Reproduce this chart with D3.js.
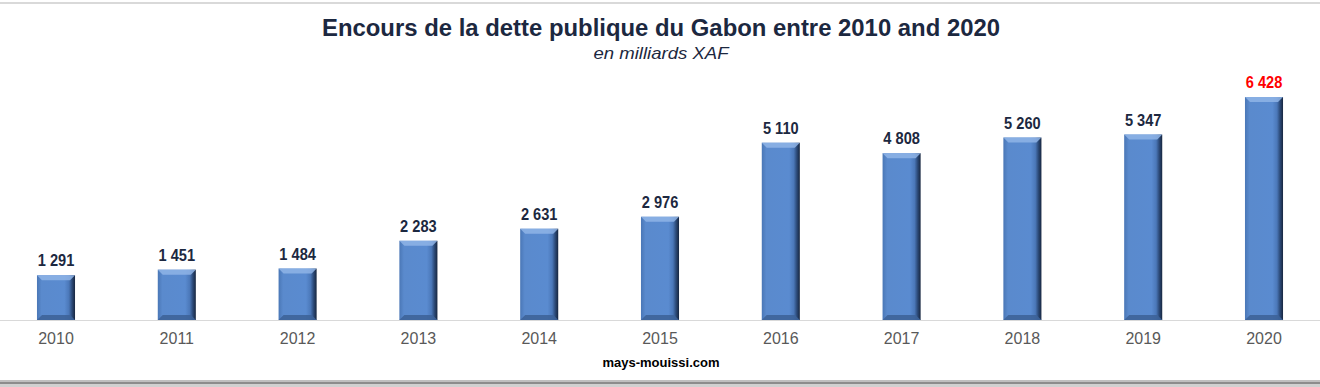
<!DOCTYPE html>
<html><head><meta charset="utf-8">
<script src="https://cdn.jsdelivr.net/npm/d3@7/dist/d3.min.js"></script>
<style>html,body{margin:0;padding:0;background:#fff;overflow:hidden}</style>
</head><body>
<script>
const years = ["2010","2011","2012","2013","2014","2015","2016","2017","2018","2019","2020"];
const values = [1291,1451,1484,2283,2631,2976,5110,4808,5260,5347,6428];
const labels = ["1 291","1 451","1 484","2 283","2 631","2 976","5 110","4 808","5 260","5 347","6 428"];
const title = "Encours de la dette publique du Gabon entre 2010 and 2020";
const subtitle = "en milliards XAF";
const source = "mays-mouissi.com";

const W = 1320, H = 387;
const FONT = "Liberation Sans, Arial, sans-serif";
const svg = d3.select("body").append("svg").attr("width", W).attr("height", H);
const defs = svg.append("defs");
const g1 = defs.append("linearGradient").attr("id","barH").attr("x1","0").attr("x2","1").attr("y1","0").attr("y2","0");
[["0%","#4a77b6"],["12%","#5a8acd"],["72%","#5a8bd0"],["84%","#4b78b9"],["92%","#2c4a78"],["100%","#17263f"]].forEach(s=>g1.append("stop").attr("offset",s[0]).attr("stop-color",s[1]));

// frame lines
svg.append("rect").attr("x",0).attr("y",2).attr("width",W).attr("height",2).attr("fill","#d9d9d9");
svg.append("rect").attr("x",0).attr("y",380).attr("width",W).attr("height",2).attr("fill","#bfbfbf");
svg.append("rect").attr("x",0).attr("y",382).attr("width",W).attr("height",2).attr("fill","#8c8c8c");
svg.append("rect").attr("x",0).attr("y",384).attr("width",W).attr("height",3).attr("fill","#d0d0d0");

const x = d3.scaleBand().domain(years).range([-4.4, 1324.4]).paddingInner(0.685).paddingOuter(0.3425);
const y = d3.scaleLinear().domain([0, 6428]).range([320, 97]);

// baseline
svg.append("line").attr("x1",0).attr("x2",W).attr("y1",320.5).attr("y2",320.5).attr("stroke","#d9d9d9").attr("stroke-width",1);

const bars = svg.append("g").selectAll("g").data(years).join("g");
bars.append("rect")
  .attr("x", (d)=>x(d)).attr("y",(d,i)=>y(values[i]))
  .attr("width", x.bandwidth()).attr("height",(d,i)=>y(0)-y(values[i]))
  .attr("fill","url(#barH)");
bars.append("path").attr("d",(d,i)=>{
  const x0=x(d), x1=x0+x.bandwidth(), t=y(values[i]), b=5;
  return `M${x0},${t}L${x1},${t}L${x1-b},${t+b}L${x0+b},${t+b}Z`;
}).attr("fill","#8fb4e6").attr("opacity",0.85);
bars.append("path").attr("d",(d,i)=>{
  const x0=x(d), x1=x0+x.bandwidth(), bt=y(0), b=5;
  return `M${x0},${bt}L${x1},${bt}L${x1-b},${bt-b}L${x0+b},${bt-b}Z`;
}).attr("fill","#3d6399").attr("opacity",0.9);

// value labels (condensed)
svg.append("g").selectAll("text").data(years).join("text")
  .attr("transform",(d,i)=>`translate(${x(d)+x.bandwidth()/2},${y(values[i])-9}) scale(0.86,1)`)
  .attr("text-anchor","middle")
  .attr("font-family",FONT).attr("font-weight","bold").attr("font-size",17)
  .attr("fill",(d,i)=> i===years.length-1 ? "#ff0000" : "#1c2840")
  .text((d,i)=>labels[i]);

// x axis
const ax = svg.append("g").attr("transform","translate(0,320)").call(d3.axisBottom(x).tickSize(0).tickPadding(10));
ax.select(".domain").remove();
ax.selectAll("text").attr("font-family",FONT).attr("font-size",16).attr("fill","#595959").attr("dy","0.71em").attr("y",13);

svg.append("text").attr("x",661).attr("y",36).attr("text-anchor","middle")
  .attr("font-family",FONT).attr("font-weight","bold").attr("font-size",23)
  .attr("textLength",678).attr("lengthAdjust","spacingAndGlyphs")
  .attr("fill","#1c2840").text(title);
svg.append("text").attr("x",661).attr("y",59).attr("text-anchor","middle")
  .attr("font-family",FONT).attr("font-style","italic").attr("font-size",17)
  .attr("textLength",135).attr("lengthAdjust","spacingAndGlyphs")
  .attr("fill","#1c2840").text(subtitle);
svg.append("text").attr("x",661).attr("y",367).attr("text-anchor","middle")
  .attr("font-family",FONT).attr("font-weight","bold").attr("font-size",13)
  .attr("fill","#000").text(source);
</script>
</body></html>
